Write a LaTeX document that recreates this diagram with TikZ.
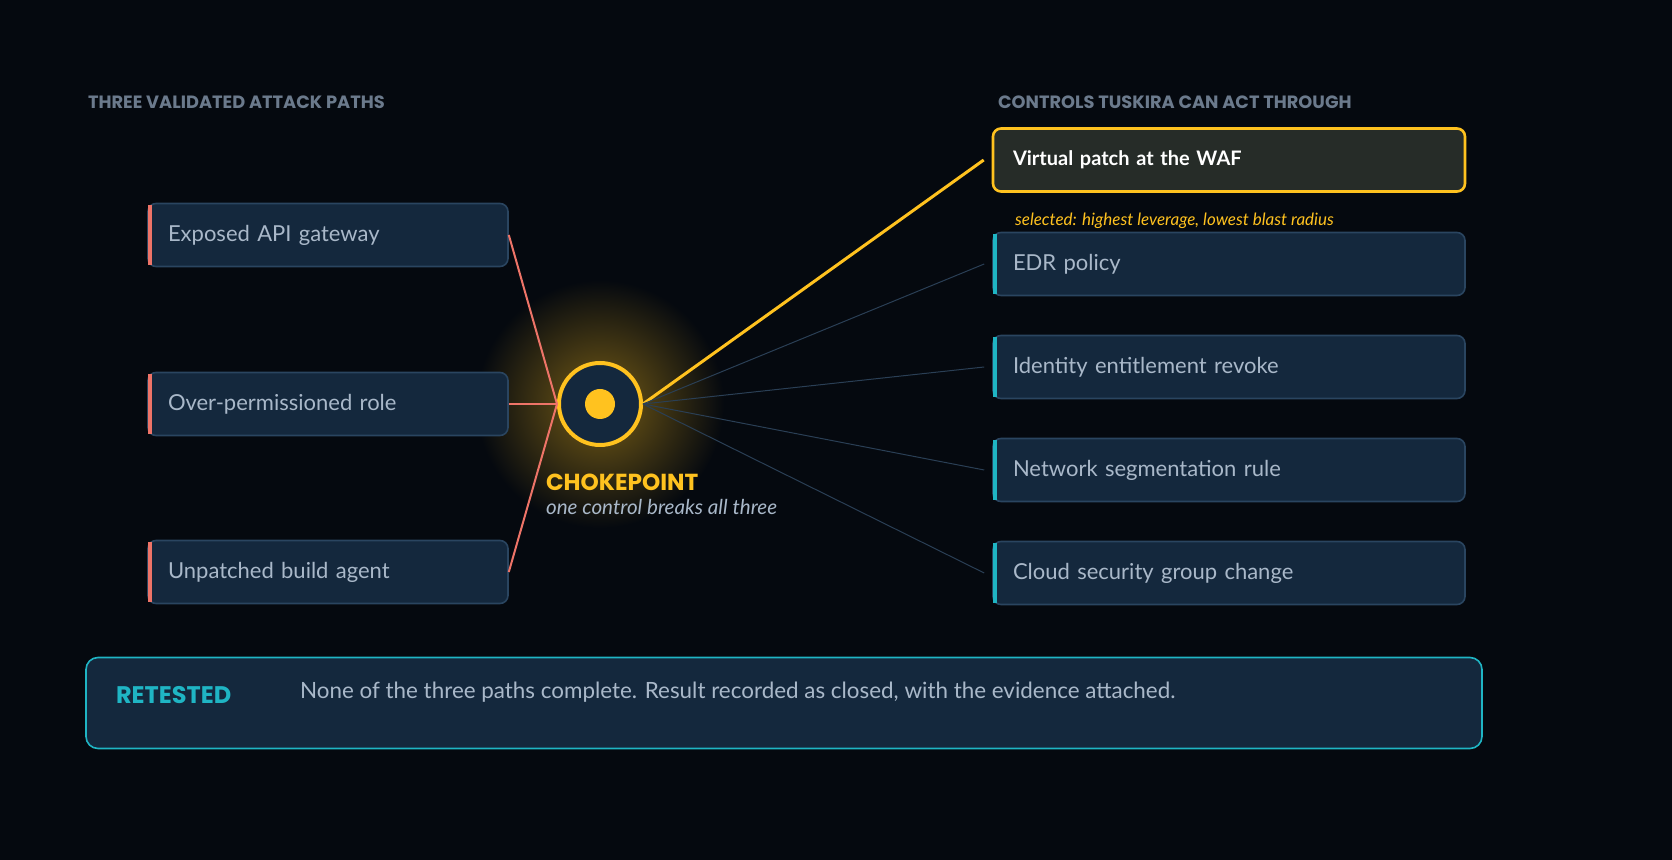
\documentclass[tikz,border=0pt]{standalone}
\usepackage{fontspec}
\setmainfont{Lato}
\newfontfamily\headfont{Poppins}
\usetikzlibrary{positioning}
\definecolor{bgdark}{HTML}{05090F}
\definecolor{boxfill}{HTML}{14283D}
\definecolor{boxline}{HTML}{2A4560}
\definecolor{txtgray}{HTML}{A9B8C9}
\definecolor{headgray}{HTML}{6B7A8C}
\definecolor{pathred}{HTML}{EE7468}
\definecolor{accteal}{HTML}{1FB5C4}
\definecolor{chokeyel}{HTML}{FFC21F}
\definecolor{wafFill}{HTML}{262C28}
\definecolor{thinline}{HTML}{2A3F55}
\begin{document}
\begin{tikzpicture}[x=0.5pt, y=-0.5pt,
		path_box/.style={rectangle, rounded corners=4pt, draw=boxline, fill=boxfill, line width=0.8pt, minimum width=178pt, minimum height=31.5pt, text width=160pt, inner xsep=10pt, align=left, text=txtgray, font=\fontsize{11}{13}\selectfont},
		ctrl_box/.style={path_box, minimum width=234pt, text width=216pt},
		heading/.style={anchor=west, text=headgray, font=\headfont\bfseries\fontsize{8.9}{10}\selectfont},
		redline/.style={draw=pathred, line width=1pt},
		greyline/.style={draw=thinline, line width=0.5pt},
		]
		%Background
		\useasboundingbox (0,0) rectangle (1672,860);
		\clip (0,0) rectangle (1672,860);
		\fill[bgdark] (0,0) rectangle (1672,860);
		\shade[inner color=chokeyel!45!bgdark, outer color=bgdark] (600,404) circle (62pt);

		%Headings
		\node[heading] (head_left)	at (81,102)	{THREE VALIDATED ATTACK PATHS};
		\node[heading] (head_right)	at (991,102)	{CONTROLS TUSKIRA CAN ACT THROUGH};

		%Attack paths
		\node[path_box] (path_1) at (328,235) {Exposed API gateway};
		\node[path_box] (path_2) at (328,404) {Over-permissioned role};
		\node[path_box] (path_3) at (328,572) {Unpatched build agent};
		\foreach \n in {path_1,path_2,path_3}
			\fill[pathred] ([xshift=0.2pt,yshift=-1pt]\n.north west) rectangle ([xshift=2.2pt,yshift=1pt]\n.south west);

		%Controls
		\node[ctrl_box, draw=chokeyel, fill=wafFill, line width=1.3pt, text=white, font=\bfseries\fontsize{10}{12}\selectfont] (waf) at (1229,160) {Virtual patch at the WAF};
		\node[anchor=west, text=chokeyel, font=\itshape\fontsize{8.5}{10}\selectfont] (waf_note) at (1008,221) {selected: highest leverage, lowest blast radius};
		\node[ctrl_box] (ctrl_1) at (1229,264) {EDR policy};
		\node[ctrl_box] (ctrl_2) at (1229,367) {Identity entitlement revoke};
		\node[ctrl_box] (ctrl_3) at (1229,470) {Network segmentation rule};
		\node[ctrl_box] (ctrl_4) at (1229,573) {Cloud security group change};
		\foreach \n in {ctrl_1,ctrl_2,ctrl_3,ctrl_4}
			\fill[accteal] ([xshift=0.2pt,yshift=-1pt]\n.north west) rectangle ([xshift=2.2pt,yshift=1pt]\n.south west);

		%Chokepoint
		\node[circle, draw=chokeyel, fill=boxfill, line width=2pt, minimum size=41pt] (choke) at (600,404) {};
		\node[circle, fill=chokeyel, minimum size=15pt] (choke_dot) at (choke) {};
		\node[anchor=west, text=chokeyel, font=\headfont\bfseries\fontsize{11.6}{13}\selectfont] (choke_lbl) at (539,482) {CHOKEPOINT};
		\node[anchor=west, text=txtgray, font=\itshape\fontsize{10.3}{12}\selectfont] (choke_sub) at (539,507) {one control breaks all three};

		%Lines
		\draw[redline] (path_1.east) -- (choke.west);
		\draw[redline] (path_2.east) -- (choke.west);
		\draw[redline] (path_3.east) -- (choke.west);
		\draw[draw=chokeyel, line width=1.5pt] (choke.east) -- ([xshift=-4pt]waf.west);
		\foreach \n in {ctrl_1,ctrl_2,ctrl_3,ctrl_4}
			\draw[greyline] (choke.east) -- ([xshift=-4pt]\n.west);

		%Retested
		\node[rectangle, rounded corners=6pt, draw=accteal, fill=boxfill, line width=0.8pt, minimum width=698pt, minimum height=45.5pt] (retest) at (784,703) {};
		\node[anchor=west, text=accteal, font=\headfont\bfseries\fontsize{12}{14}\selectfont] (retest_lbl) at (109,695) {RETESTED};
		\node[anchor=west, text=txtgray, font=\fontsize{11.2}{13}\selectfont] (retest_txt) at (293,692) {None of the three paths complete. Result recorded as closed, with the evidence attached.};
	\end{tikzpicture}
\end{document}
